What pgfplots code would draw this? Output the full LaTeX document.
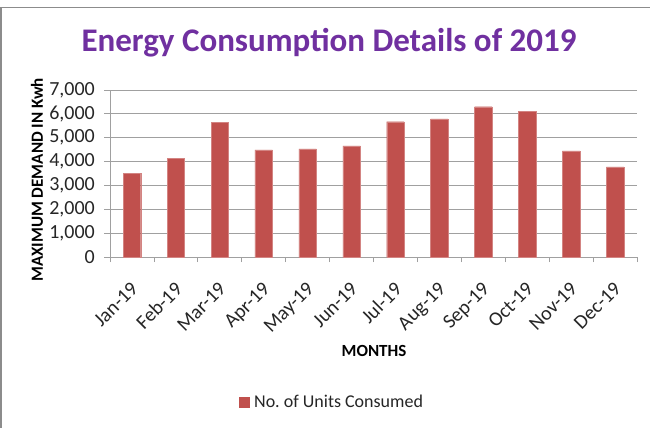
\documentclass[border=0pt]{standalone}
\usepackage{pgfplots}
\pgfplotsset{compat=1.18}
\usepackage{fontspec}
\setmainfont{Carlito}
\definecolor{barred}{HTML}{C0504D}
\definecolor{titlepurple}{HTML}{7030A0}
\definecolor{gridgray}{HTML}{A0A0A0}
\definecolor{txt}{HTML}{262626}
\begin{document}
\begin{tikzpicture}
\useasboundingbox (0bp,0bp) rectangle (650bp,-428bp);
\fill[white] (0bp,0bp) rectangle (650bp,-428bp);
\draw[color=gray!90, line width=1.5bp] (1.2bp,-428bp) -- (1.2bp,-7.5bp) -- (650bp,-7.5bp);
\begin{axis}[
  at={(110bp,-257bp)}, anchor=south west,
  scale only axis, width=527bp, height=167bp,
  ybar, bar width=17.5bp,
  xmin=-0.5, xmax=11.5, ymin=0, ymax=7000,
  axis lines*=left,
  axis line style={gridgray, line width=0.8bp},
  xtick={0,...,11},
  xticklabels={Jan-19,Feb-19,Mar-19,Apr-19,May-19,Jun-19,Jul-19,Aug-19,Sep-19,Oct-19,Nov-19,Dec-19},
  minor xtick={-0.5,0.5,...,11.5},
  major x tick style={draw=none},
  minor x tick style={gridgray, line width=0.8bp},
  minor tick length=5bp,
  ytick={0,1000,...,7000},
  major tick length=6bp,
  y tick style={gridgray, line width=0.8bp},
  tick align=outside,
  ymajorgrids, grid style={gridgray, line width=0.8bp},
  /pgf/number format/.cd, fixed, 1000 sep={,}, assume math mode=true, /pgfplots/.cd,
  tick label style={font=\fontsize{20bp}{23bp}\selectfont, text=txt},
  yticklabel style={inner sep=0pt, xshift=-9bp},
  xticklabel style={rotate=45, anchor=north east, inner sep=0pt, xshift=-14bp, yshift=-11bp},
  xlabel={\textbf{MONTHS}},
  xlabel style={at={(0.501,-0.56)}, anchor=center, font=\fontsize{17bp}{20bp}\selectfont, text=black},
  ylabel={\textbf{MAXIMUM DEMAND IN Kwh}},
  ylabel style={at={(-0.1385,0.461)}, anchor=center, font=\fontsize{17bp}{20bp}\selectfont, text=black},
  title={\textbf{Energy Consumption Details of 2019}},
  title style={at={(0.4156,1.246)}, anchor=center, font=\fontsize{33bp}{39bp}\selectfont, text=titlepurple},
  legend style={at={(0.421,-0.868)}, anchor=center, draw=none, fill=none, font=\fontsize{18bp}{21bp}\selectfont, text=txt},
  legend image code/.code={\fill[barred] (-3bp,-5bp) rectangle (7bp,5bp);},
]
\addplot[fill=barred, draw=barred!70!white, line width=0.4bp] coordinates {
(0,3520) (1,4150) (2,5640) (3,4490) (4,4530) (5,4660) (6,5670) (7,5790) (8,6300) (9,6110) (10,4450) (11,3780)
};
\legend{\hspace{3bp}No.\ of Units Consumed}
\end{axis}
\end{tikzpicture}
\end{document}
